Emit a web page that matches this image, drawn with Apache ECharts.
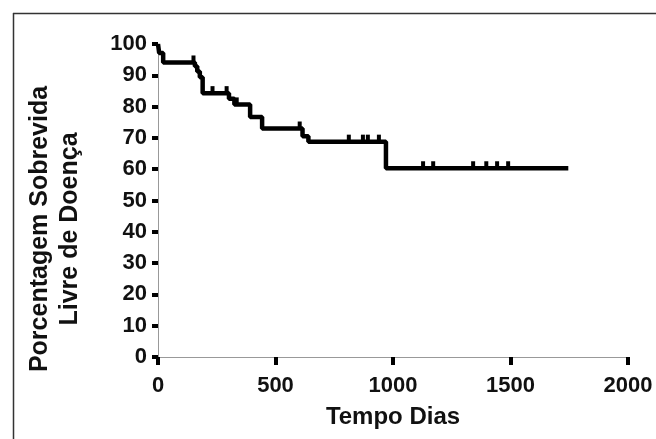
<!DOCTYPE html>
<html>
<head>
<meta charset="utf-8">
<title>Sobrevida Livre de Doença</title>
<script src="https://cdn.jsdelivr.net/npm/echarts@6/dist/echarts.min.js"></script>
<style>
  html, body { margin: 0; padding: 0; background: #fff; }
  #chart { width: 656px; height: 439px; }
</style>
</head>
<body>
<div id="chart"></div>
<script>
"use strict";

// Kaplan-Meier steps (days, percent)
const kmDays = [0, 5, 22, 157, 167, 178, 190, 302, 325, 392, 443, 615, 640, 970, 1746];
const kmSurv = [100, 97.1, 94.1, 92.9, 91.2, 89.4, 84.3, 82.5, 80.7, 76.7, 73.0, 70.5, 68.8, 60.3, 60.3];

// censored cases (small ticks on the curve)
const censorDays = [151, 232, 292, 335, 603, 812, 872, 893, 940, 1128, 1171, 1341, 1397, 1443, 1490];
const censorSurv = [94.1, 84.3, 84.3, 80.7, 73.0, 68.8, 68.8, 68.8, 68.8, 60.3, 60.3, 60.3, 60.3, 60.3, 60.3];

const xTicks = [0, 500, 1000, 1500, 2000];
const yTicks = [0, 10, 20, 30, 40, 50, 60, 70, 80, 90, 100];

const xTitle = "Tempo Dias";
const yTitle = "Porcentagem Sobrevida\nLivre de Doença";

const FONT = "'Liberation Sans', Arial, sans-serif";

const chart = echarts.init(document.getElementById("chart"), null, { renderer: "canvas" });

function zip(a, b) {
  return a.map((v, i) => [v, b[i]]);
}

const option = {
  animation: false,
  backgroundColor: "#fff",
  grid: { left: 158, right: 28, top: 44, bottom: 82, containLabel: false },
  xAxis: {
    type: "value",
    min: xTicks[0],
    max: xTicks[xTicks.length - 1],
    interval: 500,
    name: xTitle,
    nameLocation: "middle",
    nameGap: 48,
    nameTextStyle: { fontFamily: FONT, fontWeight: "bold", fontSize: 24, color: "#111" },
    axisLine: { show: true, lineStyle: { color: "#999", width: 1 } },
    axisTick: { show: true, length: 8, lineStyle: { color: "#000", width: 4 } },
    axisLabel: {
      fontFamily: FONT, fontWeight: "bold", fontSize: 22, color: "#111", margin: 18,
      formatter: (v) => String(v),
    },
    splitLine: { show: false },
  },
  yAxis: {
    type: "value",
    min: yTicks[0],
    max: yTicks[yTicks.length - 1],
    interval: 10,
    axisLine: { show: true, lineStyle: { color: "#999", width: 1 } },
    axisTick: { show: true, length: 6, lineStyle: { color: "#000", width: 4 } },
    axisLabel: { fontFamily: FONT, fontWeight: "bold", fontSize: 22, color: "#111", margin: 11 },
    splitLine: { show: false },
  },
  graphic: [
    // frame lines (top and left only visible in the picture)
    { type: "line", shape: { x1: 13, y1: 13.5, x2: 656, y2: 13.5 }, style: { stroke: "#333", lineWidth: 1.5 } },
    { type: "line", shape: { x1: 13.5, y1: 13, x2: 13.5, y2: 439 }, style: { stroke: "#333", lineWidth: 1.5 } },
    {
      type: "text",
      x: 55,
      y: 229,
      rotation: Math.PI / 2,
      style: {
        text: yTitle,
        fontFamily: FONT,
        fontWeight: "bold",
        fontSize: 25,
        lineHeight: 30,
        fill: "#111",
        align: "center",
        verticalAlign: "middle",
      },
    },
  ],
  series: [
    {
      type: "line",
      step: "end",
      data: zip(kmDays, kmSurv),
      symbol: "none",
      lineStyle: { color: "#000", width: 4.5 },
      z: 3,
    },
    {
      type: "scatter",
      data: zip(censorDays, censorSurv),
      symbol: "rect",
      symbolSize: [4, 8],
      symbolOffset: [0, -3],
      itemStyle: { color: "#000", opacity: 1 },
      z: 4,
    },
  ],
};

chart.setOption(option);
</script>
</body>
</html>
